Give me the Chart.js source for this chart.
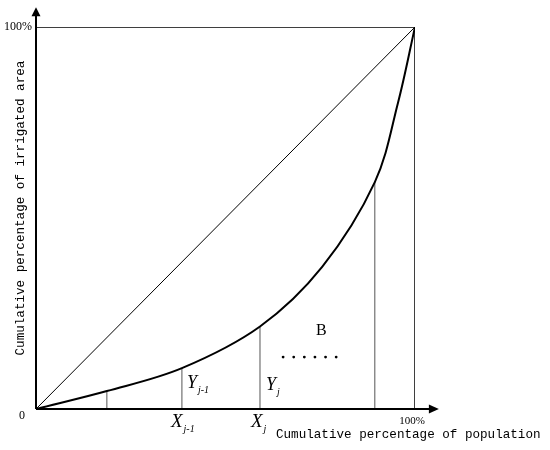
<!DOCTYPE html>
<html>
<head>
<meta charset="utf-8">
<script src="https://cdn.jsdelivr.net/npm/chart.js@4/dist/chart.umd.min.js"></script>
<style>
    body { margin: 0; background: #fff; }
    canvas { display: block; }
</style>
</head>
<body>
<canvas id="lorenzChart" width="550" height="450"></canvas>
<script>
// Lorenz curve (cumulative % population -> cumulative % irrigated area)
const curveX = [0, 18.7, 38.5, 59.1, 75.5, 89.4, 95.5, 100];
const curveY = [0, 4.7, 10.7, 21.6, 37.2, 59.4, 80.1, 100];

// vertical strips under the curve
const stripX = [18.7, 38.5, 59.1, 89.4];
const stripY = [4.7, 10.7, 21.6, 59.4];

const xTitle = 'Cumulative percentage of population';
const yTitle = 'Cumulative percentage of irrigated area';

function pts(xs, ys) {
    return xs.map((x, i) => ({ x: x, y: ys[i] }));
}

// strips as one dataset, broken by null gaps
const stripData = [];
stripX.forEach((x, i) => {
    stripData.push({ x: x, y: 0 }, { x: x, y: stripY[i] }, { x: x, y: null });
});

const decorPlugin = {
    id: 'decorPlugin',
    afterDatasetsDraw(chart) {
        const ctx = chart.ctx;
        const xs = chart.scales.x;
        const ys = chart.scales.y;
        const x0 = xs.getPixelForValue(0);
        const y0 = ys.getPixelForValue(0);
        const xEnd = xs.getPixelForValue(106.3);
        const yEnd = ys.getPixelForValue(105.2);

        ctx.save();
        ctx.fillStyle = '#000';
        ctx.strokeStyle = '#000';

        // axes with arrows
        ctx.lineWidth = 2;
        ctx.beginPath();
        ctx.moveTo(x0, y0);
        ctx.lineTo(xEnd - 8, y0);
        ctx.moveTo(x0, y0);
        ctx.lineTo(x0, yEnd + 8);
        ctx.stroke();

        ctx.beginPath();
        ctx.moveTo(xEnd, y0);
        ctx.lineTo(xEnd - 10, y0 - 4.5);
        ctx.lineTo(xEnd - 10, y0 + 4.5);
        ctx.closePath();
        ctx.fill();

        ctx.beginPath();
        ctx.moveTo(x0, yEnd);
        ctx.lineTo(x0 - 4.5, yEnd + 9);
        ctx.lineTo(x0 + 4.5, yEnd + 9);
        ctx.closePath();
        ctx.fill();

        // tick labels
        ctx.font = '12px "Liberation Serif"';
        ctx.textBaseline = 'middle';
        ctx.textAlign = 'right';
        ctx.fillText('100%', x0 - 4, ys.getPixelForValue(100));
        ctx.fillText('0', x0 - 11, y0 + 7);
        ctx.font = '11px "Liberation Serif"';
        ctx.textAlign = 'center';
        ctx.fillText('100%', xs.getPixelForValue(100) - 3, y0 + 12);

        // axis titles
        ctx.font = '12.6px "Liberation Mono"';
        ctx.textAlign = 'left';
        ctx.textBaseline = 'alphabetic';
        ctx.fillText(xTitle, x0 + 240, y0 + 29);

        ctx.save();
        ctx.translate(x0 - 15, ys.getPixelForValue(52.6));
        ctx.rotate(-Math.PI / 2);
        ctx.textAlign = 'center';
        ctx.textBaseline = 'middle';
        ctx.fillText(yTitle, 0, 0);
        ctx.restore();

        // X_{j-1}, X_j under strips, Y_{j-1}, Y_j beside them
        const sym = (main, sub, px, py, size) => {
            ctx.font = 'italic ' + size + 'px "Liberation Serif"';
            ctx.textAlign = 'left';
            ctx.textBaseline = 'alphabetic';
            ctx.fillText(main, px, py);
            const w = ctx.measureText(main).width;
            ctx.font = 'italic 10px "Liberation Serif"';
            ctx.fillText(sub, px + w + 1, py + 5);
        };
        const xa = xs.getPixelForValue(stripX[1]);
        const xb = xs.getPixelForValue(stripX[2]);
        sym('X', 'j-1', xa - 11, y0 + 18, 19);
        sym('X', 'j', xb - 9, y0 + 18, 19);
        sym('Y', 'j-1', xa + 5, y0 - 21, 18);
        sym('Y', 'j', xb + 6, y0 - 19, 18);

        // B and dots
        ctx.font = '16px "Liberation Serif"';
        ctx.textAlign = 'center';
        ctx.textBaseline = 'middle';
        ctx.fillText('B', xs.getPixelForValue(75.3), ys.getPixelForValue(20.5));
        for (let i = 0; i < 6; i++) {
            ctx.beginPath();
            ctx.arc(xs.getPixelForValue(65.2 + i * 2.8), ys.getPixelForValue(13.6), 1.4, 0, Math.PI * 2);
            ctx.fill();
        }
        ctx.restore();
    }
};

new Chart(document.getElementById('lorenzChart').getContext('2d'), {
    type: 'scatter',
    data: {
        datasets: [
            {
                data: pts(curveX, curveY),
                showLine: true,
                borderColor: '#000',
                borderWidth: 2,
                pointRadius: 0,
                tension: 0.35
            },
            {
                data: [{ x: 0, y: 0 }, { x: 100, y: 100 }],
                showLine: true,
                borderColor: '#000',
                borderWidth: 1,
                pointRadius: 0
            },
            {
                data: [{ x: 0, y: 100 }, { x: 100, y: 100 }, { x: 100, y: 0 }],
                showLine: true,
                borderColor: '#000',
                borderWidth: 1.5,
                pointRadius: 0
            },
            {
                data: stripData,
                showLine: true,
                spanGaps: false,
                borderColor: '#555',
                borderWidth: 1,
                pointRadius: 0
            }
        ]
    },
    options: {
        responsive: false,
        animation: false,
        layout: { padding: { left: 36, right: 135, top: 27, bottom: 41 } },
        plugins: {
            legend: { display: false },
            tooltip: { enabled: false }
        },
        scales: {
            x: { type: 'linear', min: 0, max: 100, display: false },
            y: { type: 'linear', min: 0, max: 100, display: false }
        }
    },
    plugins: [decorPlugin]
});
</script>
</body>
</html>
